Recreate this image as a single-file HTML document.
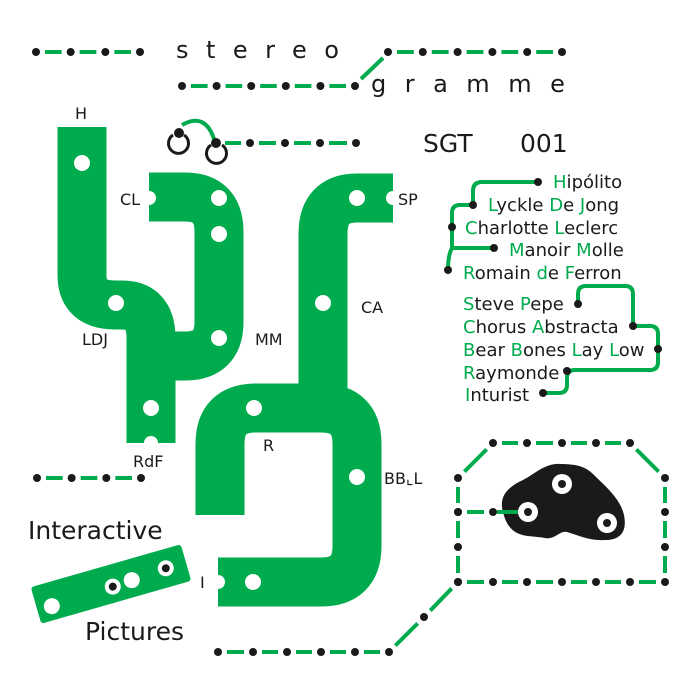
<!DOCTYPE html>
<html><head><meta charset="utf-8"><style>
html,body{margin:0;padding:0;background:#fff;}
svg{display:block}
text{font-family:"DejaVu Sans","Liberation Sans",sans-serif;fill:#1a1a1a}
.g{fill:#00ab4e}
</style></head><body>
<svg id="s" width="700" height="700" viewBox="0 0 700 700" xmlns="http://www.w3.org/2000/svg">
<g fill="none" stroke="#00ab4e" stroke-width="49" stroke-linejoin="round">
  <path d="M82,127 V275 Q82,305 115,305 H122 Q151,305 151,338 V443"/>
  <path d="M149,197 H185 Q219,197 219,232 V322 Q219,356 185,356 H151"/>
  <path d="M393,198 H357 Q323,198 323,234 V410"/>
  <path d="M220,515 V444 Q220,408 256,408 H321 Q357,408 357,444 V546 Q357,582 321,582 H218"/>
</g>
<g fill="#fff">
  <circle cx="82" cy="163" r="8"/>
  <circle cx="219" cy="198" r="8"/><circle cx="219" cy="234" r="8"/><circle cx="219" cy="338" r="8"/>
  <circle cx="149" cy="198" r="7"/>
  <circle cx="116" cy="303" r="8"/><circle cx="151" cy="408" r="8"/><circle cx="151" cy="443" r="7"/>
  <circle cx="357" cy="198" r="8"/><circle cx="393" cy="198" r="7"/>
  <circle cx="323" cy="303" r="8"/><circle cx="254" cy="408" r="8"/>
  <circle cx="357" cy="477" r="8"/><circle cx="253" cy="582" r="8"/><circle cx="218" cy="582" r="7"/>
</g>
<g font-size="16">
  <text x="75" y="119">H</text>
  <text x="120" y="205">CL</text>
  <text x="82" y="345">LDJ</text>
  <text x="255" y="345">MM</text>
  <text x="398" y="205">SP</text>
  <text x="361" y="313">CA</text>
  <text x="263" y="451">R</text>
  <text x="384" y="484">BB⌞L</text>
  <text x="133" y="467">RdF</text>
  <text x="200" y="588">I</text>
</g>
<text x="176" y="58" font-size="24" letter-spacing="17.5">stereo</text>
<text x="371" y="92" font-size="24" letter-spacing="18.5">gramme</text>
<text x="423" y="152" font-size="25">SGT</text>
<text x="520" y="152" font-size="25">001</text>
<g font-size="18" id="names"></g>
<g fill="none" stroke="#00ab4e" stroke-width="4" stroke-linejoin="round">
  <path d="M538,182 H482 Q473,182 473,191 V205 H460 Q452,205 452,213 V248 H494 M452,248 Q448,255 448,270"/>
  <path d="M578,304 V294 Q578,286 586,286 H625 Q633,286 633,294 V326 H650 Q658,326 658,334 V362 Q658,370 650,370 H575 Q567,370 567,378 V385 Q567,393 559,393 H543"/>
  <path d="M182,125 Q205,112 214,139"/>
</g>
<g fill="#1a1a1a">
  <circle cx="538" cy="182" r="4"/><circle cx="473" cy="205" r="4"/><circle cx="452" cy="227" r="4"/><circle cx="494" cy="248" r="4"/><circle cx="448" cy="270" r="4"/>
  <circle cx="578" cy="304" r="4"/><circle cx="633" cy="326" r="4"/><circle cx="658" cy="349" r="4"/><circle cx="567" cy="371" r="4"/><circle cx="543" cy="393" r="4"/>
</g>
<g fill="none" stroke="#1a1a1a" stroke-width="3">
  <path d="M173,135 A10,10 0 1 0 184,135"/>
  <path d="M211,145 A10,10 0 1 0 222,145"/>
</g>
<g fill="#1a1a1a"><circle cx="179" cy="133" r="5"/><circle cx="216" cy="143" r="5"/></g>
<path fill="#1a1a1a" d="M503,512 C498,495 510,486 523,480 C535,474 545,463 560,464 C575,464 585,466 593,474 C605,486 620,498 624,515 C627,530 622,540 605,540 C590,541 580,536 567,532 C560,530 555,540 545,538 C535,536 525,537 517,533 C508,528 505,520 503,512Z"/>
<g>
  <circle cx="562" cy="484" r="10" fill="#fff"/><circle cx="562" cy="484" r="4" fill="#1a1a1a"/>
  <circle cx="607" cy="523" r="10" fill="#fff"/><circle cx="607" cy="523" r="4" fill="#1a1a1a"/>
  <line x1="497" y1="512" x2="520" y2="512" stroke="#00ab4e" stroke-width="4"/>
  <circle cx="528" cy="512" r="10" fill="#fff"/><circle cx="528" cy="512" r="4" fill="#1a1a1a"/>
</g>
<text x="28" y="539" font-size="25">Interactive</text>
<text x="85" y="640" font-size="25">Pictures</text>
<g transform="translate(111,584) rotate(-16)">
  <rect x="-78" y="-19" width="156" height="38" rx="3" class="g"/>
  <circle cx="-63" cy="5" r="8" fill="#fff"/>
  <circle cx="1" cy="3" r="8" fill="#fff"/><circle cx="1" cy="3" r="4" fill="#1a1a1a"/>
  <circle cx="21" cy="2" r="8" fill="#fff"/>
  <circle cx="57" cy="0" r="8" fill="#fff"/><circle cx="57" cy="0" r="4" fill="#1a1a1a"/>
</g>
<g id="dl"></g>
</svg>
<script>
var NS="http://www.w3.org/2000/svg";
var names=[[553,188,"Hipólito",[0]],[488,211,"Lyckle De Jong",[0,7,10]],[465,234,"Charlotte Leclerc",[0,10]],[509,256,"Manoir Molle",[0,7]],[463,279,"Romain de Ferron",[0,7,10]],
[463,310,"Steve Pepe",[0,6]],[463,333,"Chorus Abstracta",[0,7]],[463,356,"Bear Bones Lay Low",[0,5,11,15]],[463,379,"Raymonde",[0]],[465,401,"Inturist",[0]]];
var ng=document.getElementById("names");
names.forEach(function(n){var t=document.createElementNS(NS,"text");t.setAttribute("x",n[0]);t.setAttribute("y",n[1]);
for(var i=0;i<n[2].length;i++){var s=document.createElementNS(NS,"tspan");s.textContent=n[2][i];if(n[3].indexOf(i)>=0)s.setAttribute("fill","#00ab4e");t.appendChild(s);}ng.appendChild(t);});
var dl=document.getElementById("dl");
function chain(p){for(var i=0;i<p.length-1;i++){var a=p[i],b=p[i+1],dx=b[0]-a[0],dy=b[1]-a[1],L=Math.hypot(dx,dy),u=9/L;
var l=document.createElementNS(NS,"line");l.setAttribute("x1",a[0]+dx*u);l.setAttribute("y1",a[1]+dy*u);l.setAttribute("x2",b[0]-dx*u);l.setAttribute("y2",b[1]-dy*u);
l.setAttribute("stroke","#00ab4e");l.setAttribute("stroke-width","4");dl.appendChild(l);}
p.forEach(function(a){var c=document.createElementNS(NS,"circle");c.setAttribute("cx",a[0]);c.setAttribute("cy",a[1]);c.setAttribute("r","4");c.setAttribute("fill","#1a1a1a");dl.appendChild(c);});}
function row(x0,x1,y,n){var p=[];for(var i=0;i<n;i++)p.push([x0+(x1-x0)*i/(n-1),y]);return p;}
chain(row(36,140,52,4));
chain(row(388,562,52,6));
chain(row(182,355,86,6));
(function(){var l=document.createElementNS(NS,"line");l.setAttribute("x1",383);l.setAttribute("y1",58);l.setAttribute("x2",361);l.setAttribute("y2",79);l.setAttribute("stroke","#00ab4e");l.setAttribute("stroke-width","4");dl.appendChild(l);})();
chain([[216,143],[250,143],[285,143],[320,143],[356,143]]);
chain(row(37,141,478,4));
chain([[458,582],[458,547],[458,512],[458,478],[493,443],[527,443],[562,443],[596,443],[630,443],[665,478],[665,512],[665,547],[665,582],[630,582],[596,582],[562,582],[527,582],[493,582],[458,582],[424,617],[389,652],[355,652],[321,652],[287,652],[253,652],[218,652]]);
chain([[458,512],[493,512]]);
</script>
</body></html>
